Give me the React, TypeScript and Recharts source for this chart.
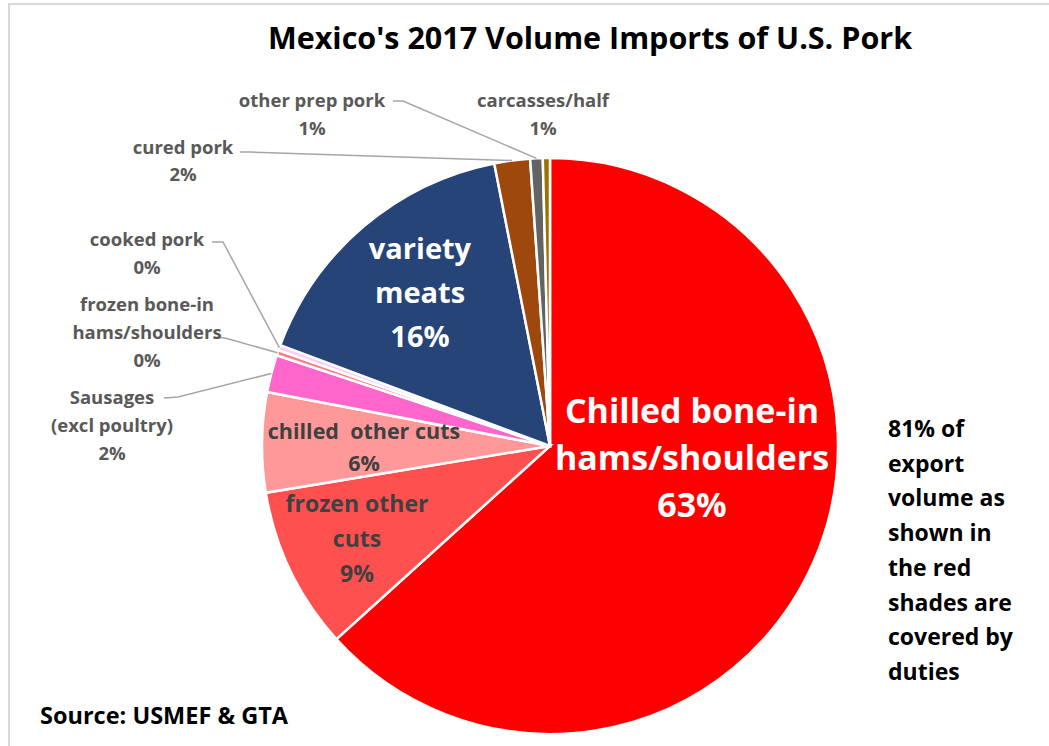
import React from "react"
import { Cell, Pie, PieChart } from "recharts"

const categories = [
  "Chilled bone-in hams/shoulders",
  "frozen other cuts",
  "chilled other cuts",
  "Sausages (excl poultry)",
  "frozen bone-in hams/shoulders",
  "cooked pork",
  "variety meats",
  "cured pork",
  "other prep pork",
  "carcasses/half",
]
const shares = [63.3, 9.1, 5.6, 2.1, 0.3, 0.3, 16.2, 2.0, 0.7, 0.4]
const shareLabels = ["63%", "9%", "6%", "2%", "0%", "0%", "16%", "2%", "1%", "1%"]
const labelLines = [
  ["Chilled bone-in", "hams/shoulders"],
  ["frozen other", "cuts"],
  ["chilled  other cuts"],
  ["Sausages", "(excl poultry)"],
  ["frozen bone-in", "hams/shoulders"],
  ["cooked pork"],
  ["variety", "meats"],
  ["cured pork"],
  ["other prep pork"],
  ["carcasses/half"],
]
const colors = [
  "#FF0000",
  "#FF5050",
  "#FF9999",
  "#FF66CC",
  "#FF7C80",
  "#FFCCFF",
  "#264478",
  "#9E480E",
  "#636363",
  "#997300",
]
const noteLines = [
  "81% of",
  "export",
  "volume as",
  "shown in",
  "the red",
  "shades are",
  "covered by",
  "duties",
]

const data = categories.map((name, i) => ({ name, value: shares[i] }))

const FONT = "'Open Sans', sans-serif"

// label placement: centre x, first line y, line step, font size, colour, leader (text end, elbow)
type Place = {
  x: number
  y: number
  step: number
  size: number
  fill: string
  leader?: [number, number, number, number]
}
const places: Place[] = [
  { x: 692, y: 410, step: 47, size: 34, fill: "#FFFFFF" },
  { x: 357, y: 503, step: 35, size: 23, fill: "#404040" },
  { x: 364, y: 430, step: 32, size: 21.5, fill: "#404040" },
  { x: 112, y: 396, step: 28, size: 18.5, fill: "#595959", leader: [164, 398, 178, 397] },
  { x: 147, y: 303, step: 28, size: 18.5, fill: "#595959", leader: [214, 337, 225, 338] },
  { x: 147, y: 238, step: 28, size: 18.5, fill: "#595959", leader: [212, 242, 223, 242] },
  { x: 420, y: 247, step: 44, size: 29, fill: "#FFFFFF" },
  { x: 183, y: 146, step: 27, size: 18.5, fill: "#595959", leader: [240, 152, 250, 152] },
  { x: 312, y: 99, step: 28, size: 18.5, fill: "#595959", leader: [393, 101, 403, 101] },
  { x: 543, y: 99, step: 28, size: 18.5, fill: "#595959" },
]

const RADIAN = Math.PI / 180

const renderLabel = (props: any) => {
  const { index, cx, cy, midAngle, outerRadius } = props
  const p = places[index]
  const lines = [...labelLines[index], shareLabels[index]]
  let leader = null
  if (p.leader) {
    const ex = cx + outerRadius * Math.cos(-midAngle * RADIAN)
    const ey = cy + outerRadius * Math.sin(-midAngle * RADIAN)
    const [x1, y1, x2, y2] = p.leader
    leader = (
      <polyline
        points={`${x1},${y1} ${x2},${y2} ${ex},${ey}`}
        fill="none"
        stroke="#A6A6A6"
        strokeWidth={1.5}
      />
    )
  }
  return (
    <g key={`lbl-${index}`}>
      {leader}
      {lines.map((t, i) => (
        <text
          key={i}
          x={p.x}
          y={p.y + i * p.step}
          textAnchor="middle"
          dominantBaseline="central"
          fontFamily={FONT}
          fontWeight="bold"
          fontSize={p.size}
          fill={p.fill}
          style={{ whiteSpace: "pre" }}
        >
          {t}
        </text>
      ))}
    </g>
  )
}

export default function App() {
  return (
    <div
      style={{
        position: "absolute",
        left: 0,
        top: 0,
        width: 1049,
        height: 746,
        background: "#FFFFFF",
        overflow: "hidden",
      }}
    >
      <div
        style={{
          position: "absolute",
          left: 8,
          top: 3,
          width: 1060,
          height: 760,
          border: "2px solid #D9D9D9",
        }}
      />
      <PieChart width={1049} height={746} style={{ position: "absolute", left: 0, top: 0 }}>
        <text
          x={590}
          y={37}
          textAnchor="middle"
          dominantBaseline="central"
          fontFamily={FONT}
          fontWeight="bold"
          fontSize={30.5}
          fill="#000000"
        >
          Mexico's 2017 Volume Imports of U.S. Pork
        </text>
        <Pie
          data={data}
          dataKey="value"
          nameKey="name"
          cx={545}
          cy={441}
          outerRadius={288}
          startAngle={90}
          endAngle={-270}
          stroke="#FFFFFF"
          strokeWidth={2.5}
          label={renderLabel}
          labelLine={false}
          isAnimationActive={false}
        >
          {data.map((d, i) => (
            <Cell key={d.name} fill={colors[i]} />
          ))}
        </Pie>
        {noteLines.map((t, i) => (
          <text
            key={t}
            x={888}
            y={428 + i * 34.7}
            dominantBaseline="central"
            fontFamily={FONT}
            fontWeight="bold"
            fontSize={23}
            fill="#000000"
          >
            {t}
          </text>
        ))}
        <text
          x={40}
          y={715}
          dominantBaseline="central"
          fontFamily={FONT}
          fontWeight="bold"
          fontSize={23.5}
          fill="#000000"
        >
          Source: USMEF &amp; GTA
        </text>
      </PieChart>
    </div>
  )
}
